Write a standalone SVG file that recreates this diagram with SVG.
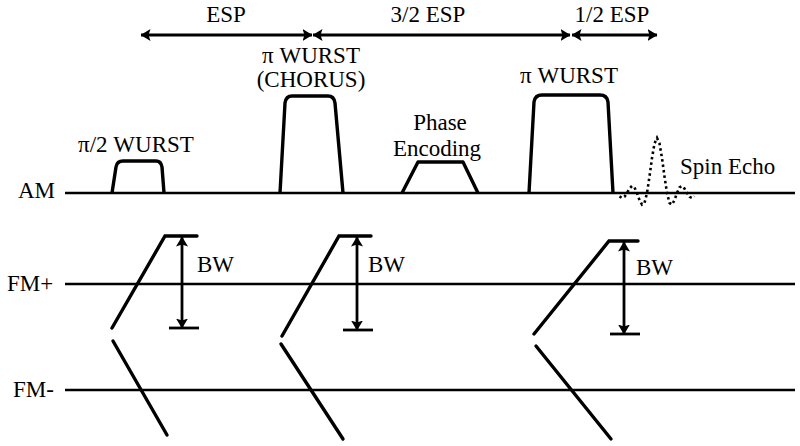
<svg xmlns="http://www.w3.org/2000/svg" width="800" height="446" viewBox="0 0 800 446" font-family="Liberation Serif, DejaVu Serif, Times New Roman, serif" font-size="23">
<defs>
<style>
.mid{text-anchor:middle}
.axis{stroke:#000;stroke-width:2.6;fill:none}
.pulse{stroke:#000;stroke-width:3.4;fill:none;stroke-linejoin:round}
.ramp{stroke:#000;stroke-width:3.4;fill:none;stroke-linecap:round}
.bar{stroke:#000;stroke-width:2.8;fill:none}
.arr{stroke:#000;stroke-width:2.8;fill:none;marker-start:url(#ah);marker-end:url(#ah)}
.echo{stroke:#000;stroke-width:2.6;fill:none;stroke-dasharray:2.5 3}
</style>
<marker id="ah" viewBox="0 0 10 12" refX="9.5" refY="6" markerWidth="10" markerHeight="12" markerUnits="userSpaceOnUse" orient="auto-start-reverse">
<path d="M0,0 L10,6 L0,12 L2,6 z" fill="#000"/>
</marker>
</defs>
<rect width="800" height="446" fill="#fff"/>

<g id="axes">
<line class="axis" x1="65" y1="193" x2="795" y2="193"/>
<line class="axis" x1="65" y1="284" x2="795" y2="284"/>
<line class="axis" x1="65" y1="390" x2="795" y2="390"/>
<text x="18" y="198">AM</text>
<text x="7" y="291">FM+</text>
<text x="13" y="397">FM-</text>
</g>

<g id="timing">
<line class="arr" x1="141" y1="35" x2="312" y2="35"/>
<line class="arr" x1="313" y1="35" x2="570" y2="35"/>
<line class="arr" x1="572" y1="35" x2="657" y2="35"/>
<text class="mid" x="226" y="22">ESP</text>
<text class="mid" x="428" y="22">3/2 ESP</text>
<text class="mid" x="612" y="22">1/2 ESP</text>
</g>

<g id="pulse-90">
<path class="pulse" d="M112,193 L116,167 Q117,161 123,161 L156,161 Q161,161 162,167 L164,193"/>
<text class="mid" x="136" y="152">π/2 WURST</text>
</g>

<g id="pulse-180-chorus">
<path class="pulse" d="M280,193 L285,103 Q286,96 292,96 L328,96 Q334,96 335,103 L343,193"/>
<text class="mid" x="311" y="63">π WURST</text>
<text class="mid" x="311" y="87">(CHORUS)</text>
</g>

<g id="phase-encoding">
<path class="pulse" d="M402,193 L418,162 L463,162 L478,193"/>
<text class="mid" x="440" y="130">Phase</text>
<text class="mid" x="437" y="156">Encoding</text>
</g>

<g id="pulse-180">
<path class="pulse" d="M529,193 L534,102 Q535,95 542,95 L600,95 Q607,95 608,102 L613,193"/>
<text class="mid" x="569" y="83">π WURST</text>
</g>

<g id="spin-echo">
<polyline class="echo" points="619.5,196.3 622,198 624.5,196.8 627,193 629.5,188.5 632,186 634.5,187.5 637,193 639.5,200.1 642,204.7 644.5,202.9 647,193 649.5,176.5 652,158 654.5,143.5 657,138 659.5,143.5 662,158 664.5,176.5 667,193 669.5,202.9 672,204.7 674.5,200.1 677,193 679.5,187.5 682,186 684.5,188.5 687,193 689.5,196.8 692,198 694.5,196.3"/>
<text x="680" y="174">Spin Echo</text>
</g>

<g id="fm-1">
<polyline class="ramp" points="112,328 165,236 197,236"/>
<line class="ramp" x1="113" y1="341" x2="167" y2="435"/>
<line class="arr" x1="182" y1="237" x2="182" y2="328"/>
<line class="bar" x1="169" y1="328" x2="199" y2="328"/>
<text x="197" y="272">BW</text>
</g>

<g id="fm-2">
<polyline class="ramp" points="282,336 339,236 371,236"/>
<line class="ramp" x1="281" y1="344" x2="343" y2="439"/>
<line class="arr" x1="357" y1="237" x2="357" y2="330"/>
<line class="bar" x1="343" y1="330" x2="373" y2="330"/>
<text x="368" y="272">BW</text>
</g>

<g id="fm-3">
<polyline class="ramp" points="534,334 609,241 638,241"/>
<line class="ramp" x1="536" y1="346" x2="611" y2="439"/>
<line class="arr" x1="624" y1="242" x2="624" y2="334"/>
<line class="bar" x1="610" y1="334" x2="640" y2="334"/>
<text x="636" y="275">BW</text>
</g>
</svg>
